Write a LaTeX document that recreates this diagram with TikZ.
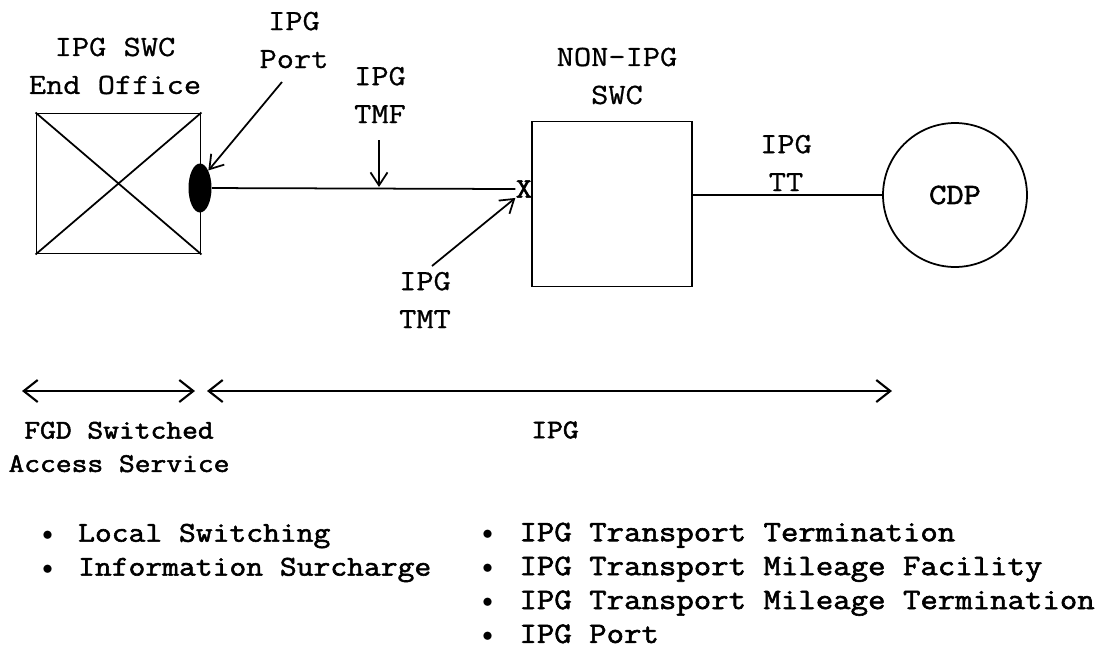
\documentclass[tikz,border=0pt]{standalone}
\usepackage{fontspec}
\newfontfamily\cour[FakeStretch=1.14, FakeBold=0.8]{Latin Modern Mono}
\newfontfamily\courb[FakeStretch=1.14, FakeBold=2]{Latin Modern Mono}
\newcommand{\bul}{\makebox[1.25em][l]{\raisebox{0.1ex}{\fontsize{12}{12}\selectfont$\bullet$}}}
\usetikzlibrary{arrows.meta, positioning, shapes.geometric}

\begin{document}
\begin{tikzpicture}[x=0.02cm, y=-0.02cm,
        every node/.style={font=\cour\fontsize{16.7}{21.6}\selectfont, inner sep=0pt},
        lbl/.style={align=center},
        lst/.style={align=left, anchor=west, font=\courb\fontsize{16.3}{19.3}\selectfont},
        swbox/.style={draw, line width=1.1pt, minimum width=3.28cm, minimum height=2.8cm},
        wire/.style={line width=1pt},
        ptr/.style={line width=1pt, -{Straight Barb[length=2.6mm, width=3.4mm]}},
        span/.style={line width=1.2pt, {Straight Barb[length=2.8mm, width=4.4mm]}-{Straight Barb[length=2.8mm, width=4.4mm]}}
      ]
        \useasboundingbox (0,0) rectangle (1110,647);
        % switches and CDP
        \node[swbox] (swc) at (118.5,183.5) {};
        \draw[line width=1pt] (swc.north west) -- (swc.south east) (swc.south west) -- (swc.north east);
        \node[ellipse, fill=black, minimum width=0.46cm, minimum height=0.98cm] (port) at (200,188) {};
        \node[swbox, minimum width=3.2cm, minimum height=3.3cm] (nonipg) at (612,204) {};
        \node[circle, draw, line width=1pt, minimum size=2.88cm] (cdp) at (955,195) {};
        \node[font=\courb\fontsize{16.7}{20}\selectfont] at (cdp.center) {CDP};
        \node[font=\courb\fontsize{16}{18}\selectfont] (xmark) at (524,189) {X};
        % labels
        \node[lbl] (lswc) at (115,66) {IPG SWC\\End Office};
        \node[lbl] (lport) at (294,40) {IPG\\Port};
        \node[lbl] (ltmf) at (380,95) {IPG\\TMF};
        \node[lbl] (ltmt) at (425,300) {IPG\\TMT};
        \node[lbl] (lnon) at (617,76) {NON-IPG\\SWC};
        \node[lbl] (ltt) at (786,163) {IPG\\TT};
        % wires and pointers
        \draw[wire] (port) -- (xmark.west);
        \draw[wire] (nonipg.east |- cdp.west) -- (cdp.west);
        \coordinate (pt) at (282,82);
        \draw[ptr] (pt) -- (port.north east);
        \coordinate (ft) at (379,140);
        \coordinate (fh) at (379,187);
        \draw[ptr] (ft) -- (fh);
        \coordinate (tt) at (432,266);
        \draw[ptr] (tt) -- (xmark.south west);
        % spans
        \coordinate (a1) at (22,391);
        \coordinate (a2) at (195,391);
        \coordinate (a3) at (207,391);
        \coordinate (a4) at (892,391);
        \draw[span] (a1) -- (a2);
        \draw[span] (a3) -- (a4);
        \node[lbl, font=\courb\fontsize{15.3}{19}\selectfont] (lfgd) at (119,447) {FGD Switched\\Access Service};
        \node[font=\courb\fontsize{15.3}{19}\selectfont] (lipg) at (555,430) {IPG};
        % lists
        \node[lst] (llist) at (42,553) {\bul Local Switching\\\bul Information Surcharge};
        \node[lst, font=\courb\fontsize{16.9}{19.3}\selectfont] (rlist) at (482,583) {\bul IPG Transport Termination\\\bul IPG Transport Mileage Facility\\\bul IPG Transport Mileage Termination\\\bul IPG Port};
      \end{tikzpicture}
\end{document}
